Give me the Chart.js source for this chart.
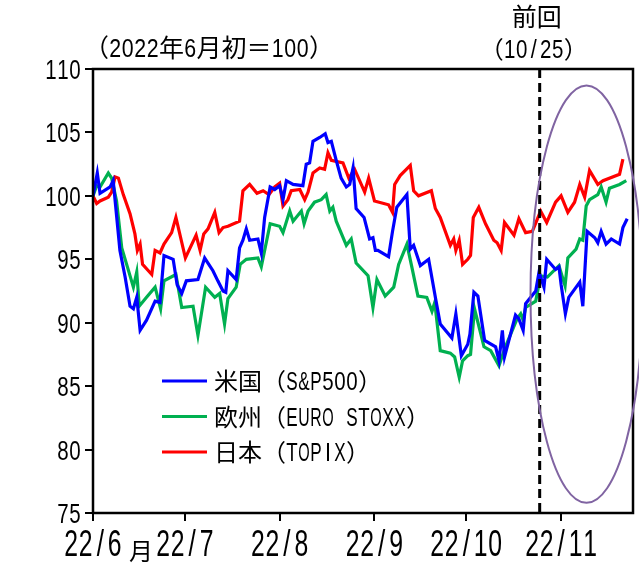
<!DOCTYPE html>
<html>
<head>
<meta charset="utf-8">
<title>株価</title>
<script src="https://cdn.jsdelivr.net/npm/chart.js@4.4.1/dist/chart.umd.min.js"></script>
<style>
  body { margin: 0; background: #fff; }
  #wrap { width: 639px; height: 564px; }
</style>
</head>
<body>
<div id="wrap"><canvas id="myChart" width="639" height="564"></canvas></div>
<script>
// x values are days counted from 2022-06-01
const monthTicks = [0, 30, 61, 92, 122, 153];
const monthLabels = ['22/6', '22/7', '22/8', '22/9', '22/10', '22/11'];
const prevDay = 146; // 10/25

const seriesNames = ['米国（S&P500）', '欧州（EURO STOXX）', '日本（TOPIX）'];
const seriesColors = ['#0000ff', '#00b050', '#ff0000'];

const usDays = [0,1.4,2.3,5.6,6.6,8.8,10.5,12.1,13.2,14.3,15.4,17.5,20.3,21.9,23.2,26.2,27.5,29.0,30.5,34.3,
  36.5,39.2,40.8,42.5,43.4,44.1,46.8,47.9,49.0,50.1,51.2,53.9,55.0,56.1,57.9,59.4,61.0,62.1,63.2,65.4,
  68.6,69.7,70.8,71.9,74.1,75.9,76.8,77.9,79.5,81.1,82.8,83.9,85.0,86.0,88.6,90.4,91.5,92.3,93.1,96.6,
  97.9,99.3,102.6,103.7,104.8,107.0,109.7,111.9,113.5,117.3,118.6,120.4,122.5,123.2,124.5,125.8,128.0,131.6,132.7,133.8,
  134.5,138.1,139.2,140.6,141.4,144.7,145.8,147.4,148.3,151.2,152.3,153.0,154.4,155.5,159.1,160.1,161.5,164.0,165.0,166.1,
  167.7,169.4,172.1,173.2,174.6];
const usVals = [100,101.8,100.2,100.7,101.2,95.7,93.6,91.3,91.1,92.0,89.4,90.2,91.7,91.6,95.3,95.0,93.0,92.3,93.3,93.4,
  95.1,94.1,93.3,92.5,92.4,94.1,93.4,95.9,96.5,97.4,96.5,96.6,95.5,98.3,100.7,100.5,100.8,99.7,101.2,100.9,
  100.8,102.5,102.6,104.3,104.6,104.9,104.2,104.3,102.8,101.4,100.7,100.9,102.2,99.0,98.3,96.6,96.7,95.7,95.7,95.2,
  97.2,99.1,100.1,95.8,96.1,94.5,95.0,92.0,89.9,88.8,90.7,87.4,88.3,89.1,92.4,92.1,88.6,88.1,87.0,89.4,
  87.3,90.6,90.3,89.4,91.5,92.5,94.0,92.8,95.0,94.2,94.4,93.0,90.7,92.0,93.2,91.3,97.2,96.7,96.3,97.2,
  96.2,96.6,96.2,97.5,98.2];

const euDays = [0,1.2,2.3,5.0,6.1,7.7,9.4,11.0,13.2,14.3,15.1,17.5,20.3,22.1,23.2,27.1,29.0,32.7,34.3,36.8,
  39.8,41.4,43.0,44.1,46.8,48.1,50.1,53.9,55.0,57.9,61.0,62.1,64.3,65.4,68.1,69.0,70.3,72.4,74.6,76.2,
  77.4,78.4,79.5,82.8,84.4,86.0,89.9,91.5,92.8,95.5,98.3,99.9,102.6,104.2,106.2,109.1,110.8,111.7,113.5,116.8,
  118.2,119.7,120.8,122.5,123.4,124.7,127.8,130.0,132.7,134.8,138.6,139.8,140.6,141.4,144.7,146.3,148.5,152.3,154.3,155.2,
  157.9,159.1,160.1,161.2,162.3,165.0,166.1,167.7,168.8,172.1,174.3];
const euVals = [100,100.8,100.7,101.8,101.4,99.6,95.9,94.6,92.8,94.0,91.3,92.0,92.8,91.1,93.3,93.8,91.2,91.3,89.0,92.8,
  92.0,92.3,89.9,91.9,92.8,94.6,95.0,95.1,94.4,97.8,97.6,97.1,98.8,98.0,98.8,97.8,98.8,99.5,99.7,100.1,
  98.8,99.1,98.0,96.1,96.6,94.7,93.7,91.2,93.4,92.1,92.8,94.6,96.2,94.4,92.1,92.0,90.9,91.6,87.8,87.6,
  87.3,85.7,87.0,87.4,87.5,91.1,88.1,87.8,86.6,88.1,90.3,90.7,90.2,91.2,91.7,93.7,93.6,94.5,92.9,95.1,
  95.8,96.6,96.5,99.2,99.7,100.1,100.7,99.5,100.6,100.9,101.2];

const jpDays = [0,1.2,2.3,5.0,6.1,7.2,8.3,9.9,12.1,13.7,14.5,15.4,16.2,19.2,20.3,21.9,23.2,25.7,27.1,30.2,
  33.7,35.0,36.2,37.6,39.8,41.2,42.5,44.1,47.9,49.0,51.2,53.6,55.6,57.5,59.4,61.0,62.1,63.7,64.8,67.6,
  69.2,70.3,71.9,74.1,75.7,76.8,77.9,81.7,83.6,85.5,88.8,90.1,92.0,96.6,97.9,98.6,100.4,103.7,104.8,106.4,
  110.6,111.9,113.5,116.8,117.9,118.6,119.7,120.8,122.5,123.4,124.3,126.1,128.3,131.0,132.1,133.4,134.5,137.6,139.2,141.4,
  143.6,146.3,148.3,151.2,153.0,155.2,157.4,159.1,160.7,162.3,165.0,166.7,172.1,173.2];
const jpVals = [100,99.4,99.6,99.9,100.3,101.5,101.4,100.1,98.6,97.0,95.7,96.2,94.6,93.8,95.7,95.5,96.2,97.1,98.3,95.1,
  96.9,95.7,97.0,97.4,98.7,97.1,97.5,97.6,98.0,100.4,100.9,100.2,100.4,100.1,100.7,101.0,99.2,99.7,100.4,100.5,
  99.7,100.3,101.8,102.2,102.1,103.4,102.8,102.6,101.4,102.1,100.3,101.4,99.6,99.3,98.7,100.9,101.6,102.4,100.4,100.0,
  100.4,99.0,98.3,96.1,96.6,95.7,96.5,94.6,95.0,95.3,98.3,99.1,97.8,96.5,96.3,95.7,97.9,96.9,98.2,97.1,
  97.2,98.8,97.9,99.5,100.0,98.7,99.5,100.9,99.9,102.0,100.9,101.2,101.7,102.9];

const CJK = "'Noto Sans CJK JP', sans-serif";
const LATIN = "'Liberation Sans', Arial, sans-serif";

function pts(days, vals) {
  return days.map((d, i) => ({ x: d, y: vals[i] }));
}

// gothic style text: full-width chars take 1em, others a narrow half cell
function isWide(ch) {
  const c = ch.charCodeAt(0);
  return c >= 0x2e80;
}
function drawGothic(ctx, text, x, y, o) {
  const size = o.size, cell = o.cell || size / 2, lsize = o.latin || size;
  const chars = Array.from(text);
  let total = 0;
  chars.forEach(ch => { total += isWide(ch) ? size : cell; });
  let cur = x;
  if (o.align === 'center') cur = x - total / 2;
  if (o.align === 'right') cur = x - total;
  ctx.save();
  ctx.fillStyle = '#000';
  ctx.textBaseline = 'alphabetic';
  ctx.textAlign = 'center';
  const sxBase = cell / (0.556 * lsize);
  chars.forEach(ch => {
    if (isWide(ch)) {
      ctx.font = size + 'px ' + CJK;
      ctx.fillText(ch, cur + size / 2, y);
      cur += size;
    } else {
      if (ch !== ' ') {
        ctx.font = lsize + 'px ' + LATIN;
        const w = ctx.measureText(ch).width;
        const sx = Math.min(sxBase, (cell * 0.95) / w);
        ctx.save();
        ctx.translate(cur + cell / 2, y);
        ctx.scale(sx, 1);
        ctx.fillText(ch, 0, 0);
        ctx.restore();
      }
      cur += cell;
    }
  });
  ctx.restore();
}

const extras = {
  id: 'extras',
  afterDraw(chart) {
    const { ctx, chartArea: a, scales } = chart;
    ctx.save();
    // frame
    ctx.strokeStyle = '#000';
    ctx.lineWidth = 2.5;
    ctx.strokeRect(a.left, a.top, a.right - a.left, a.bottom - a.top);

    // previous meeting line
    const px = scales.x.getPixelForValue(prevDay);
    ctx.lineWidth = 3;
    ctx.setLineDash([9, 5]);
    ctx.beginPath();
    ctx.moveTo(px, a.top);
    ctx.lineTo(px, a.bottom);
    ctx.stroke();
    ctx.setLineDash([]);

    // ellipse
    const cx = scales.x.getPixelForValue(161.3);
    const cy = scales.y.getPixelForValue(92.25);
    const rx = scales.x.getPixelForValue(161.3 + 18.3) - cx;
    const ry = cy - scales.y.getPixelForValue(92.25 + 16.45);
    ctx.strokeStyle = '#8064a2';
    ctx.lineWidth = 2;
    ctx.beginPath();
    ctx.ellipse(cx, cy, rx, ry, 0, 0, Math.PI * 2);
    ctx.stroke();

    // tick labels
    scales.y.ticks.forEach(t => {
      const yy = scales.y.getPixelForValue(t.value);
      drawGothic(ctx, String(t.value), 81, yy + 10, { size: 24, cell: 12, latin: 28, align: 'right' });
    });
    scales.x.ticks.forEach((t, i) => {
      const xx = scales.x.getPixelForValue(t.value);
      drawGothic(ctx, monthLabels[i], xx, 556, { size: 29, cell: 14.5, latin: 37, align: 'center' });
    });
    drawGothic(ctx, '月', 141, 560, { size: 24, align: 'center' });

    // legend
    ctx.lineWidth = 3;
    seriesNames.forEach((name, i) => {
      const y = 381 + i * 35.5;
      ctx.strokeStyle = seriesColors[i];
      ctx.beginPath();
      ctx.moveTo(162, y);
      ctx.lineTo(207, y);
      ctx.stroke();
      drawGothic(ctx, name, 214, y + 9, { size: 24, latin: 25, align: 'left' });
    });

    // notes
    drawGothic(ctx, '（2022年6月初＝100）', 84, 57, { size: 25, latin: 26, align: 'left' });
    drawGothic(ctx, '前回', px - 3, 26, { size: 25, align: 'center' });
    drawGothic(ctx, '（10/25）', px - 6, 58, { size: 24, latin: 26, align: 'center' });
    ctx.restore();
  }
};

const ctx = document.getElementById('myChart').getContext('2d');
const myChart = new Chart(ctx, {
  type: 'line',
  data: {
    datasets: [
      { label: seriesNames[0], data: pts(usDays, usVals), borderColor: seriesColors[0] },
      { label: seriesNames[1], data: pts(euDays, euVals), borderColor: seriesColors[1] },
      { label: seriesNames[2], data: pts(jpDays, jpVals), borderColor: seriesColors[2] }
    ]
  },
  options: {
    responsive: false,
    animation: false,
    devicePixelRatio: 1,
    layout: { padding: { top: 69, right: 6, left: 0, bottom: 0 } },
    elements: {
      line: { borderWidth: 3.2, tension: 0, fill: false },
      point: { radius: 0 }
    },
    plugins: { legend: { display: false }, tooltip: { enabled: false } },
    scales: {
      x: {
        type: 'linear',
        min: 0,
        max: 176.5,
        afterBuildTicks: (s) => { s.ticks = monthTicks.map(v => ({ value: v })); },
        afterFit: (s) => { s.height = 51; },
        ticks: {
          autoSkip: false,
          maxRotation: 0,
          color: 'rgba(0,0,0,0)',
          font: { size: 20 },
          callback: (v, i) => monthLabels[i]
        },
        grid: { drawOnChartArea: false, tickLength: 8, color: '#000', lineWidth: 2 },
        border: { display: false }
      },
      y: {
        min: 75,
        max: 110,
        afterFit: (s) => { s.width = 93; },
        ticks: {
          stepSize: 5,
          color: 'rgba(0,0,0,0)',
          font: { size: 20 }
        },
        grid: { drawOnChartArea: false, tickLength: 8, color: '#000', lineWidth: 2 },
        border: { display: false }
      }
    }
  },
  plugins: [extras]
});
</script>
</body>
</html>
